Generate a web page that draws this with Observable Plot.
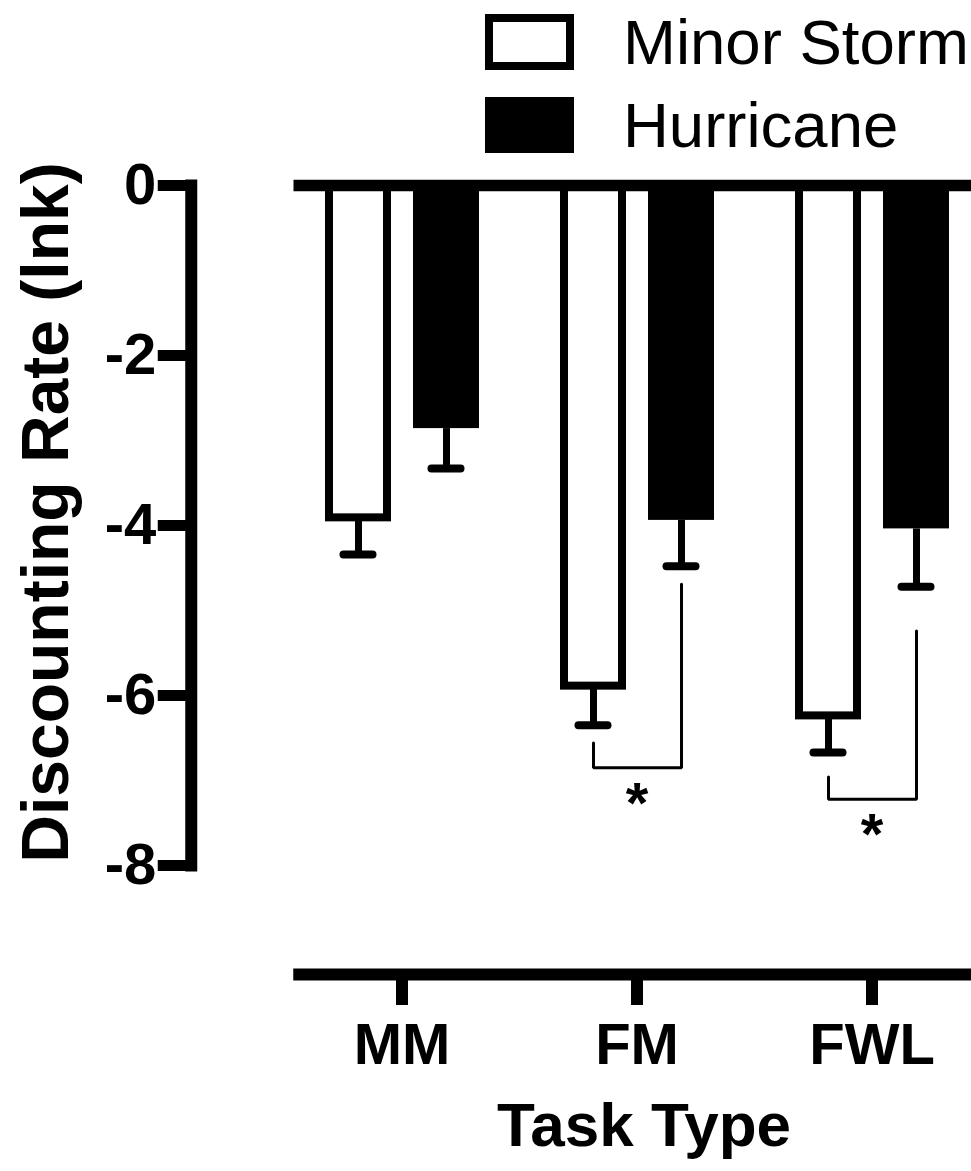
<!DOCTYPE html>
<html><head><meta charset="utf-8">
<script src="https://cdn.jsdelivr.net/npm/d3@7"></script>
<script src="https://cdn.jsdelivr.net/npm/@observablehq/plot@0.6"></script>
<style>
html,body{margin:0;padding:0;background:#fff;overflow:hidden;}
#wrap{width:971px;height:1171px;overflow:hidden;position:relative;font-family:"Liberation Sans",Arial,Helvetica,sans-serif;}
#legend{position:relative;height:160px;}
#chart svg{max-width:none !important;}
.sw{position:absolute;left:485px;width:89px;height:56px;box-sizing:border-box;}
.lab{position:absolute;left:623px;font-size:63.5px;line-height:1;white-space:nowrap;color:#000;}
</style></head>
<body><div id="wrap"><div id="legend"></div><div id="chart"></div></div>
<script>
const tasks = ["MM", "FM", "FWL"];
const conditions = ["Minor Storm", "Hurricane"];
const minorStormMeans = [-3.91, -5.89, -6.24];
const minorStormErrors = [0.43, 0.46, 0.43];
const hurricaneMeans = [-2.86, -3.94, -4.04];
const hurricaneErrors = [0.47, 0.54, 0.68];
const yTicks = [0, -2, -4, -6, -8];
const sigTasks = ["FM", "FWL"];
const bracketMinorEnds = [-6.56, -6.96];
const bracketBases = [-6.85, -7.22];
const bracketHurricaneEnds = [-4.69, -5.24];
const starPositions = [-7.12, -7.49];
const yLabel = "Discounting Rate (lnk)";
const xLabel = "Task Type";

const FONT = '"Liberation Sans", Arial, Helvetica, sans-serif';

const bars = tasks.flatMap((t, i) => [
  {task: t, cond: conditions[0], value: minorStormMeans[i], err: minorStormErrors[i]},
  {task: t, cond: conditions[1], value: hurricaneMeans[i], err: hurricaneErrors[i]}
]);
bars.forEach(d => d.low = d.value - d.err);
const brackets = sigTasks.flatMap((t, i) => [
  {task: t, cond: conditions[0], y: bracketMinorEnds[i]},
  {task: t, cond: conditions[0], y: bracketBases[i]},
  {task: t, cond: conditions[1], y: bracketBases[i]},
  {task: t, cond: conditions[1], y: bracketHurricaneEnds[i]}
]);
const stars = sigTasks.map((t, i) => ({task: t, y: starPositions[i]}));

// legend
const legend = document.getElementById("legend");
const swTops = [14, 97];
const labTops = [11, 94];
conditions.forEach((c, i) => {
  const sw = document.createElement("div");
  sw.className = "sw";
  sw.style.top = swTops[i] + "px";
  if (i === 0) { sw.style.border = "8px solid #000"; sw.style.background = "#fff"; }
  else { sw.style.background = "#000"; }
  legend.appendChild(sw);
  const lab = document.createElement("div");
  lab.className = "lab";
  lab.style.top = labTops[i] + "px";
  lab.textContent = c;
  legend.appendChild(lab);
});

const chart = Plot.plot({
  width: 1000,
  height: 1011,
  marginLeft: 298,
  marginRight: 12,
  marginTop: 25,
  marginBottom: 306,
  style: {fontFamily: FONT, color: "black", background: "white", overflow: "visible", maxWidth: "none"},
  fx: {domain: tasks, range: [283.25, 989.75], padding: 0, axis: null},
  x: {domain: conditions, paddingInner: 0.25, paddingOuter: 0.4556, axis: null},
  y: {domain: [-8, 0], axis: null},
  marks: [
    Plot.barY(bars.filter(d => d.cond === conditions[0]), {fx: "task", x: "cond", y: "value", fill: "white", stroke: "black", strokeWidth: 8, insetLeft: 4, insetRight: 4}),
    Plot.barY(bars.filter(d => d.cond === conditions[1]), {fx: "task", x: "cond", y: "value", fill: "black"}),
    Plot.ruleX(bars, {fx: "task", x: "cond", y1: "value", y2: "low", stroke: "black", strokeWidth: 7}),
    Plot.tickY(bars, {fx: "task", x: "cond", y: "low", stroke: "black", strokeWidth: 8, strokeLinecap: "round", insetLeft: 18.5, insetRight: 18.5}),
    Plot.line(brackets, {fx: "task", x: "cond", y: "y", z: "task", stroke: "black", strokeWidth: 3, strokeLinejoin: "miter"}),
    Plot.text(stars, {fx: "task", y: "y", text: () => "*", fontSize: 58, fontWeight: "bold", lineAnchor: "middle", dy: 13.6}),
    Plot.frame({anchor: "top", facet: "super", insetLeft: 14.75, stroke: "black", strokeWidth: 11.5}),
    Plot.frame({anchor: "bottom", facet: "super", insetLeft: 14.75, dy: 109, stroke: "black", strokeWidth: 12}),
    Plot.frame({anchor: "left", facet: "super", dx: -93.25, stroke: "black", strokeWidth: 12, strokeLinecap: "square"}),
    Plot.axisY(yTicks, {anchor: "left", dx: -93.25, tickSize: 33, tickPadding: 2, strokeWidth: 11, fontSize: 58, fontWeight: "bold", tickFormat: d => String(d), label: null}),
    Plot.axisFx({anchor: "bottom", dy: 109, tickSize: 31, tickPadding: 17, strokeWidth: 12, fontSize: 58, fontWeight: "bold", label: null}),
    Plot.text([xLabel], {facet: "super", frameAnchor: "bottom", text: d => d, lineAnchor: "middle", dx: 7, dy: 260.8, fontSize: 62, fontWeight: "bold"}),
    Plot.text([yLabel], {facet: "super", frameAnchor: "left", text: d => d, rotate: -90, textAnchor: "middle", lineAnchor: "middle", dx: -237.8, dy: -13, fontSize: 66, fontWeight: "bold"})
  ]
});
document.getElementById("chart").appendChild(chart);
</script>
</body></html>
